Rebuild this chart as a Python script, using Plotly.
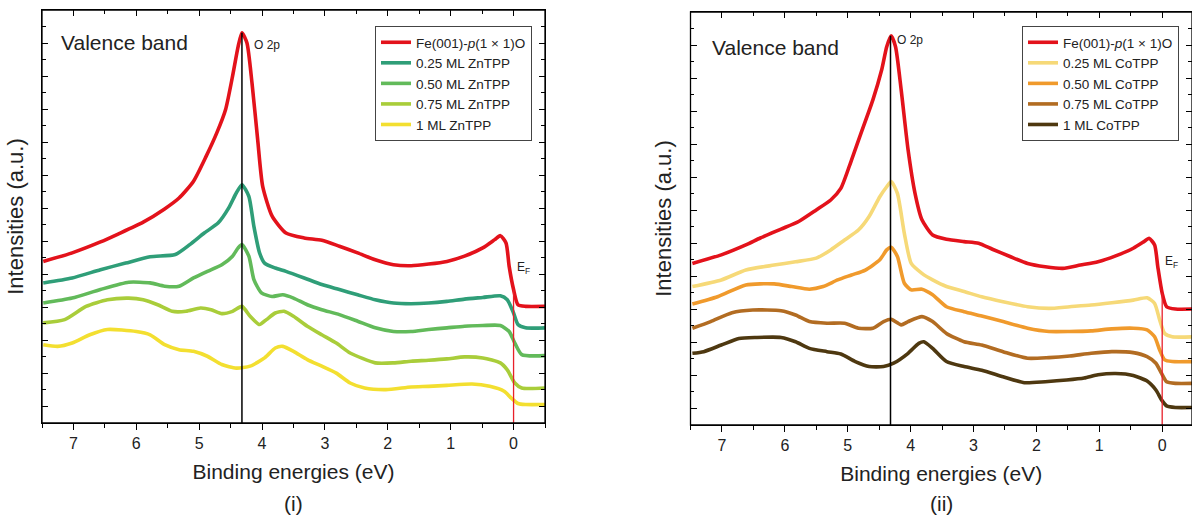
import plotly.graph_objects as go

# ---------------- Data: panel (i) Fe(001)-p(1x1)O + ZnTPP ----------------
zn_fe_x = [7.48, 7.02, 6.57, 6.29, 5.89, 5.55, 5.32, 5.09, 4.89, 4.72, 4.58, 4.47, 4.38, 4.32, 4.24, 4.16,
           4.07, 3.99, 3.84, 3.62, 3.33, 3.05, 2.77, 2.48, 2.20, 1.91, 1.63, 1.35, 1.06, 0.78, 0.49, 0.30,
           0.21, 0.12, 0.07, 0.00, -0.07, -0.19, -0.5]
zn_fe_y = [4.89, 5.15, 5.48, 5.72, 6.08, 6.48, 6.81, 7.32, 8.07, 8.78, 9.49, 10.49, 11.40, 11.81, 11.50, 10.29,
           8.58, 7.16, 6.26, 5.75, 5.60, 5.53, 5.35, 5.15, 4.94, 4.79, 4.76, 4.81, 4.89, 5.05, 5.30, 5.55,
           5.67, 5.45, 4.74, 4.04, 3.58, 3.53, 3.53]

zn025_x = [7.48, 7.02, 6.57, 6.17, 5.78, 5.38, 5.15, 4.92, 4.70, 4.53, 4.41, 4.32, 4.21, 4.13, 4.04, 3.96,
           3.79, 3.62, 3.33, 3.05, 2.77, 2.48, 2.20, 1.91, 1.63, 1.35, 1.06, 0.78, 0.49, 0.21, 0.10, 0.00,
           -0.07, -0.19, -0.5]
zn025_y = [4.24, 4.39, 4.64, 4.84, 5.03, 5.10, 5.40, 5.75, 6.05, 6.51, 6.96, 7.21, 6.86, 5.95, 5.15, 4.84,
           4.69, 4.59, 4.39, 4.19, 4.04, 3.88, 3.73, 3.63, 3.61, 3.63, 3.68, 3.75, 3.80, 3.85, 3.73, 3.33,
           2.98, 2.88, 2.88]

zn050_x = [7.48, 7.02, 6.57, 6.12, 5.78, 5.55, 5.32, 5.09, 4.87, 4.64, 4.47, 4.38, 4.32, 4.21, 4.13, 4.01,
           3.84, 3.67, 3.50, 3.28, 3.05, 2.77, 2.48, 2.20, 1.91, 1.63, 1.35, 1.06, 0.78, 0.49, 0.21, 0.07,
           -0.02, -0.13, -0.5]
zn050_y = [3.63, 3.78, 4.04, 4.26, 4.24, 4.14, 4.14, 4.39, 4.59, 4.79, 5.05, 5.30, 5.40, 5.05, 4.34, 3.94,
           3.83, 3.88, 3.78, 3.58, 3.43, 3.28, 3.08, 2.88, 2.77, 2.77, 2.83, 2.88, 2.93, 2.95, 2.95, 2.77,
           2.42, 2.07, 2.04]

zn075_x = [7.48, 7.14, 6.80, 6.46, 6.12, 5.89, 5.66, 5.43, 5.21, 4.98, 4.81, 4.64, 4.47, 4.32, 4.19, 4.04,
           3.93, 3.79, 3.65, 3.50, 3.28, 3.05, 2.82, 2.60, 2.20, 1.91, 1.63, 1.35, 1.06, 0.78, 0.49, 0.21,
           0.10, -0.02, -0.13, -0.5]
zn075_y = [3.03, 3.13, 3.53, 3.73, 3.78, 3.73, 3.58, 3.38, 3.38, 3.48, 3.43, 3.31, 3.38, 3.53, 3.23, 2.98,
           3.13, 3.33, 3.38, 3.23, 2.93, 2.67, 2.42, 2.12, 1.82, 1.82, 1.87, 1.90, 1.94, 2.00, 1.97, 1.82,
           1.61, 1.21, 1.06, 1.06]

zn100_x = [7.48, 7.25, 7.02, 6.74, 6.46, 6.00, 5.78, 5.55, 5.32, 5.09, 4.87, 4.64, 4.41, 4.19, 3.96, 3.79,
           3.67, 3.50, 3.28, 3.05, 2.82, 2.60, 2.37, 2.03, 1.63, 1.35, 1.06, 0.66, 0.38, 0.15, 0.04, -0.07,
           -0.19, -0.5]
zn100_y = [2.37, 2.32, 2.42, 2.67, 2.83, 2.77, 2.67, 2.37, 2.22, 2.17, 2.02, 1.77, 1.66, 1.72, 1.97, 2.27,
           2.32, 2.17, 1.92, 1.72, 1.51, 1.21, 1.06, 1.01, 1.09, 1.11, 1.14, 1.18, 1.11, 0.96, 0.76, 0.59,
           0.56, 0.56]

# ---------------- Data: panel (ii) Fe(001)-p(1x1)O + CoTPP ----------------
co_fe_x = [7.47, 7.01, 6.62, 6.39, 6.06, 5.78, 5.50, 5.27, 5.11, 4.94, 4.77, 4.60, 4.46, 4.38, 4.31, 4.24,
           4.15, 4.04, 3.93, 3.82, 3.65, 3.43, 3.15, 2.92, 2.70, 2.42, 2.14, 1.86, 1.58, 1.30, 1.02, 0.74,
           0.46, 0.29, 0.21, 0.12, 0.07, 0.00, -0.07, -0.21, -0.5]
co_fe_y = [4.89, 5.15, 5.45, 5.66, 5.93, 6.16, 6.51, 6.81, 7.16, 8.02, 8.93, 9.84, 10.75, 11.45, 11.78, 11.45,
           10.14, 8.32, 7.01, 6.21, 5.75, 5.62, 5.55, 5.50, 5.32, 5.10, 4.89, 4.79, 4.74, 4.84, 4.94, 5.12,
           5.35, 5.55, 5.65, 5.45, 4.79, 3.99, 3.58, 3.51, 3.51]

co025_x = [7.47, 7.01, 6.62, 6.17, 5.83, 5.50, 5.27, 5.05, 4.83, 4.66, 4.49, 4.38, 4.31, 4.21, 4.10, 3.99,
           3.82, 3.65, 3.43, 3.15, 2.87, 2.53, 2.14, 1.80, 1.47, 1.13, 0.80, 0.46, 0.24, 0.12, 0.04, -0.04,
           -0.16, -0.5]
co025_y = [4.19, 4.39, 4.69, 4.84, 4.94, 5.05, 5.30, 5.60, 5.90, 6.31, 6.91, 7.21, 7.37, 7.01, 5.80, 4.89,
           4.59, 4.39, 4.19, 4.04, 3.88, 3.73, 3.58, 3.53, 3.58, 3.63, 3.70, 3.78, 3.85, 3.68, 3.18, 2.77,
           2.67, 2.67]

co050_x = [7.47, 7.07, 6.62, 6.17, 5.89, 5.61, 5.39, 5.16, 4.94, 4.72, 4.49, 4.38, 4.31, 4.21, 4.10, 3.99,
           3.82, 3.65, 3.43, 3.15, 2.87, 2.53, 2.14, 1.80, 1.47, 1.13, 0.80, 0.46, 0.24, 0.12, 0.04, -0.04,
           -0.16, -0.5]
co050_y = [3.66, 3.88, 4.24, 4.27, 4.19, 4.11, 4.19, 4.39, 4.54, 4.69, 5.00, 5.30, 5.38, 5.10, 4.29, 4.09,
           4.11, 3.94, 3.58, 3.43, 3.30, 3.13, 2.93, 2.83, 2.83, 2.85, 2.91, 2.93, 2.88, 2.67, 2.27, 1.97,
           1.92, 1.92]

co075_x = [7.47, 7.18, 6.84, 6.51, 6.06, 5.83, 5.61, 5.33, 5.05, 4.83, 4.60, 4.43, 4.31, 4.15, 4.04, 3.82,
           3.65, 3.43, 3.15, 2.87, 2.53, 2.14, 1.80, 1.47, 1.13, 0.80, 0.46, 0.24, 0.10, 0.01, -0.07, -0.21,
           -0.5]
co075_y = [2.93, 3.13, 3.40, 3.48, 3.46, 3.33, 3.13, 3.08, 3.08, 2.93, 2.93, 3.13, 3.20, 3.03, 3.13, 3.28,
           3.13, 2.77, 2.52, 2.42, 2.22, 2.02, 2.04, 2.09, 2.17, 2.22, 2.19, 2.07, 1.87, 1.56, 1.31, 1.26,
           1.26]

co100_x = [7.47, 7.29, 7.01, 6.73, 6.45, 6.06, 5.83, 5.61, 5.33, 5.11, 4.88, 4.66, 4.43, 4.27, 4.04, 3.87,
           3.79, 3.65, 3.43, 3.15, 2.87, 2.53, 2.19, 1.86, 1.52, 1.24, 1.02, 0.74, 0.46, 0.24, 0.10, 0.01,
           -0.07, -0.21, -0.5]
co100_y = [2.17, 2.22, 2.42, 2.62, 2.65, 2.65, 2.52, 2.32, 2.22, 2.15, 1.92, 1.77, 1.77, 1.87, 2.17, 2.47,
           2.52, 2.32, 1.92, 1.77, 1.66, 1.46, 1.28, 1.31, 1.36, 1.42, 1.52, 1.56, 1.50, 1.33, 1.06, 0.76,
           0.58, 0.53, 0.53]

zn_names = ["Fe(001)-<i>p</i>(1 × 1)O", "0.25 ML ZnTPP", "0.50 ML ZnTPP", "0.75 ML ZnTPP", "1 ML ZnTPP"]
co_names = ["Fe(001)-<i>p</i>(1 × 1)O", "0.25 ML CoTPP", "0.50 ML CoTPP", "0.75 ML CoTPP", "1 ML CoTPP"]
zn_colors = ["#e3121b", "#2f9e78", "#62ba5a", "#a9cd3a", "#f3df30"]
co_colors = ["#e3121b", "#f6d978", "#f09a2c", "#b26c22", "#4e3810"]

o2p_peak = 4.32           # O 2p marker (eV)
o2p_top = [11.81, 11.78]  # marker heights
ef_pos = 0.0
ef_top = [4.04, 3.99]

x_ticks = [7, 6, 5, 4, 3, 2, 1, 0]

FONT = "Arial, Liberation Sans, sans-serif"

fig = go.Figure()

zn_series = [(zn_fe_x, zn_fe_y), (zn025_x, zn025_y), (zn050_x, zn050_y), (zn075_x, zn075_y), (zn100_x, zn100_y)]
co_series = [(co_fe_x, co_fe_y), (co025_x, co025_y), (co050_x, co050_y), (co075_x, co075_y), (co100_x, co100_y)]

for (xs, ys), name, col in zip(zn_series, zn_names, zn_colors):
    fig.add_trace(go.Scatter(x=xs, y=ys, mode="lines", name=name,
                             line=dict(color=col, width=3.6, shape="spline", smoothing=0.6),
                             xaxis="x", yaxis="y", legend="legend"))
for (xs, ys), name, col in zip(co_series, co_names, co_colors):
    fig.add_trace(go.Scatter(x=xs, y=ys, mode="lines", name=name,
                             line=dict(color=col, width=3.6, shape="spline", smoothing=0.6),
                             xaxis="x2", yaxis="y2", legend="legend2"))

# marker lines drawn on top of the spectra
for i, (xa, ya) in enumerate([("x", "y"), ("x2", "y2")]):
    fig.add_trace(go.Scatter(x=[o2p_peak, o2p_peak], y=[0, o2p_top[i]], mode="lines",
                             line=dict(color="black", width=1.5), showlegend=False,
                             xaxis=xa, yaxis=ya, hoverinfo="skip"))
    fig.add_trace(go.Scatter(x=[ef_pos, ef_pos], y=[0, ef_top[i]], mode="lines",
                             line=dict(color="#e8202a", width=1.3), showlegend=False,
                             xaxis=xa, yaxis=ya, hoverinfo="skip"))

W, H = 1192, 518
L_dom = [42 / W, 545 / W]
R_dom = [690.5 / W, 1.0]
L_ydom = [1 - 423 / H, 1 - 10 / H]
R_ydom = [1 - 425 / H, 1 - 12 / H]
L_rng = [7.5, -0.5]
R_rng = [7.5, -0.474]


def xaxis_cfg(dom, anchor, rng):
    return dict(domain=dom, anchor=anchor, range=rng, tickmode="array", tickvals=x_ticks,
                ticktext=[str(t) for t in x_ticks], ticks="outside", ticklen=6, tickwidth=1.3,
                tickcolor="black", showline=True, linecolor="black", linewidth=1.3, mirror=True,
                showgrid=False, zeroline=False, automargin=False,
                minor=dict(dtick=0.5, tick0=0, ticks="outside", ticklen=3.5, tickwidth=1.3, tickcolor="black"),
                tickfont=dict(family=FONT, size=16, color="#222"),
                title=dict(text="Binding energies (eV)", font=dict(family=FONT, size=21, color="#222"), standoff=12))


def yaxis_cfg(dom, anchor):
    return dict(domain=dom, anchor=anchor, range=[0, 12.5], tick0=0.5, dtick=1, ticks="inside", ticklen=6,
                tickwidth=1.3, tickcolor="black", showticklabels=False, showline=True, linecolor="black",
                linewidth=1.3, mirror="ticks", showgrid=False, zeroline=False, automargin=False,
                minor=dict(dtick=0.5, tick0=0, ticks="inside", ticklen=3.5, tickwidth=1.3, tickcolor="black"),
                title=dict(text="Intensities (a.u.)", font=dict(family=FONT, size=22, color="#222"), standoff=11))


def top_axis_cfg(dom, anchor, rng):
    # separate axis sharing the panel domain, carrying the inward-pointing top ticks
    return dict(domain=dom, anchor=anchor, side="top", range=rng, tickmode="array", tickvals=x_ticks,
                ticks="inside", ticklen=6, tickwidth=1.3, tickcolor="black", showticklabels=False,
                showline=False, showgrid=False, zeroline=False, automargin=False,
                minor=dict(dtick=0.5, tick0=0, ticks="inside", ticklen=3.5, tickwidth=1.3, tickcolor="black"))


legend_common = dict(bgcolor="white", bordercolor="#444", borderwidth=1,
                     font=dict(family=FONT, size=13.5, color="#222"),
                     itemwidth=30, tracegroupgap=0, xanchor="left", yanchor="top")

fig.update_layout(
    width=W, height=H, margin=dict(l=0, r=0, t=0, b=0, autoexpand=False),
    plot_bgcolor="rgba(0,0,0,0)", paper_bgcolor="white",
    xaxis=xaxis_cfg(L_dom, "y", L_rng),
    yaxis=yaxis_cfg(L_ydom, "x"),
    xaxis2=xaxis_cfg(R_dom, "y2", R_rng),
    yaxis2=yaxis_cfg(R_ydom, "x2"),
    xaxis3=top_axis_cfg(L_dom, "y", L_rng),
    xaxis4=top_axis_cfg(R_dom, "y2", R_rng),
    legend=dict(x=375 / W, y=1 - 26 / H, **legend_common),
    legend2=dict(x=1022 / W, y=1 - 26 / H, **legend_common),
    showlegend=True,
)

# invisible anchors so the top-tick axes are drawn
fig.add_trace(go.Scatter(x=[3], y=[-5], mode="markers", marker=dict(opacity=0), showlegend=False,
                         xaxis="x3", yaxis="y", hoverinfo="skip"))
fig.add_trace(go.Scatter(x=[3], y=[-5], mode="markers", marker=dict(opacity=0), showlegend=False,
                         xaxis="x4", yaxis="y2", hoverinfo="skip"))

# panel frames
for xr, yr in [("x domain", "y domain"), ("x2 domain", "y2 domain")]:
    fig.add_shape(type="rect", xref=xr, yref=yr, x0=0, x1=1, y0=0, y1=1,
                  line=dict(color="black", width=1.3), fillcolor="rgba(0,0,0,0)", layer="above")

ann_font = dict(family=FONT, color="#222")
annotations = [
    dict(text="Valence band", xref="x domain", yref="y domain", x=0.034, y=0.922, xanchor="left", yanchor="middle",
         showarrow=False, font=dict(size=21, **ann_font)),
    dict(text="Valence band", xref="x2 domain", yref="y2 domain", x=0.039, y=0.915, xanchor="left", yanchor="middle",
         showarrow=False, font=dict(size=21, **ann_font)),
    dict(text="O 2p", xref="x", yref="y", x=o2p_peak, y=11.44, xanchor="left", yanchor="middle", xshift=10,
         showarrow=False, font=dict(size=12, **ann_font)),
    dict(text="O 2p", xref="x2", yref="y2", x=o2p_peak, y=11.65, xanchor="left", yanchor="middle", xshift=4,
         showarrow=False, font=dict(size=12, **ann_font)),
    dict(text="E<sub>F</sub>", xref="x", yref="y", x=ef_pos, y=4.7, xanchor="left", yanchor="middle", xshift=1,
         showarrow=False, font=dict(size=12, **ann_font)),
    dict(text="E<sub>F</sub>", xref="x2", yref="y2", x=ef_pos, y=4.93, xanchor="left", yanchor="middle", xshift=1,
         showarrow=False, font=dict(size=12, **ann_font)),
    dict(text="(i)", xref="x domain", yref="paper", x=0.5, y=1 - 503 / H, xanchor="center", yanchor="middle",
         showarrow=False, font=dict(size=21, **ann_font)),
    dict(text="(ii)", xref="x2 domain", yref="paper", x=0.5, y=1 - 503 / H, xanchor="center", yanchor="middle",
         showarrow=False, font=dict(size=21, **ann_font)),
]
fig.update_layout(annotations=annotations)

fig.write_html("out.html", config={"displayModeBar": False},
               post_script="document.body.style.margin='0';document.body.style.overflow='hidden';")
